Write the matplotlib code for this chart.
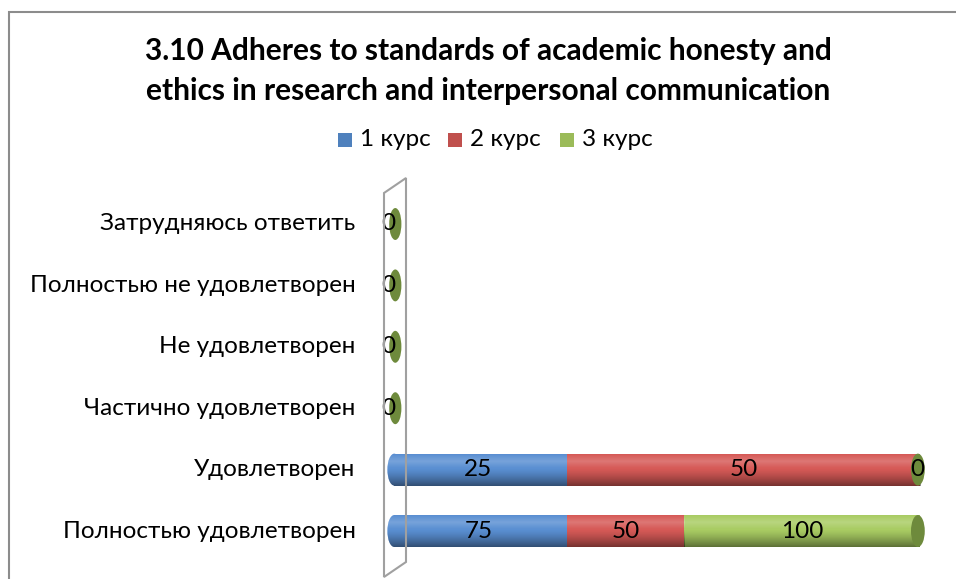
import numpy as np
import matplotlib.pyplot as plt
from matplotlib.patches import Ellipse, Polygon, Rectangle

categories = ['Полностью удовлетворен', 'Удовлетворен', 'Частично удовлетворен',
              'Не удовлетворен', 'Полностью не удовлетворен', 'Затрудняюсь ответить']
series_names = ['1 курс', '2 курс', '3 курс']
kurs1 = [75, 25, 0, 0, 0, 0]
kurs2 = [50, 50, 0, 0, 0, 0]
kurs3 = [100, 0, 0, 0, 0, 0]
title = '3.10 Adheres to standards of academic honesty and\nethics in research and interpersonal communication'

colors = ['#4F81BD', '#C0504D', '#9BBB59']
face = ['#5A8FD2', '#D65A57', '#A9CC63']
caps = ['#3D6A9E', '#9A3E3B', '#6E8A3C']

plt.rcParams['font.family'] = ['Lato', 'DejaVu Sans']

W, H = 956, 579
fig = plt.figure(figsize=(W / 100, H / 100), dpi=100)

def px(x0, y0, x1, y1):
    return [x0 / W, 1 - y1 / H, (x1 - x0) / W, (y1 - y0) / H]

# 0..100 % maps to 390..920 px; a little room on both sides for the end caps
ppu = 5.3
ax = fig.add_axes(px(390 - 3 * ppu, 193.3, 920 + 3 * ppu, 561.7))
ax.set_xlim(-3, 103)
ax.set_ylim(-0.5, 5.5)
ax.axis('off')

# outer frame and the 3D wall
fig.patches.append(Rectangle((9 / W, -0.1), 2, 1 - 12 / H + 0.1, transform=fig.transFigure,
                             fill=False, edgecolor='#8c8c8c', linewidth=1.5))
wall = [(384, 193), (406, 178), (406, 562), (384, 577)]
fig.patches.append(Polygon([(x / W, 1 - y / H) for x, y in wall], closed=True, transform=fig.transFigure,
                           fill=False, edgecolor='#a0a0a0', linewidth=1.5))

data = np.array([kurs1, kurs2, kurs3], dtype=float)
totals = data.sum(axis=0)
bh = 0.52
capw = 2.6
fs = 17.5

# vertical shading for the cylinder look (first row = bottom of bar, darkest)
n = 64
t = np.linspace(0, 1, n)
dark = np.clip((t - 0.45) / 0.55, 0, 1) ** 1.3 * 0.45
light = np.clip(1 - np.abs(t - 0.22) / 0.22, 0, 1) * 0.18
shade = np.zeros((n, 1, 4))
shade[:, 0, :3] = (light / np.maximum(light + dark, 1e-6))[:, None]
shade[:, 0, 3] = light + dark
shade = shade[::-1]


def shaded(patch, x0, x1, y, z):
    im = ax.imshow(shade, extent=(x0, x1, y - bh / 2, y + bh / 2), aspect='auto',
                   zorder=z, interpolation='bilinear', origin='lower')
    im.set_clip_path(patch)


for i, cat in enumerate(categories):
    ax.text(-6.5, i, cat, ha='right', va='center', fontsize=fs)
    if totals[i] == 0:
        ax.add_patch(Ellipse((1.0, i), 2.3, bh, facecolor=caps[2], edgecolor='none', zorder=3))
        ax.text(-0.4, i, '0', ha='center', va='center', fontsize=fs, zorder=5)
        continue
    left = 0
    pct = data[:, i] / totals[i] * 100
    for s in range(3):
        w = pct[s]
        if w > 0:
            if s == 0:
                e = Ellipse((0.8, i), capw, bh, facecolor=face[s], edgecolor='none', zorder=1.5)
                ax.add_patch(e)
                shaded(e, -capw, capw, i, 1.6)
            bar = ax.barh(i, w, left=left + (0.8 if s == 0 else 0), height=bh, color=face[s],
                          edgecolor='none', zorder=2)[0]
            if s == 0:
                bar.set_width(w - 0.8)
            shaded(bar, left, left + w, i, 3)
        ax.text(left + w / 2 if w > 0 else left - 0.6, i, f'{data[s, i]:g}', ha='center', va='center',
                fontsize=fs, zorder=6)
        left += w
    # end cap at the right takes colour of last series
    ax.add_patch(Ellipse((99.6, i), capw, bh, facecolor=caps[2], edgecolor='none', zorder=4))

fig.text(488 / W, 1 - 71 / H, title, ha='center', va='center', fontsize=21.5, fontweight='bold',
         linespacing=1.5)

# legend
leg_y = 1 - 140 / H
for k, (name, c) in enumerate(zip(series_names, colors)):
    x0 = [338, 448, 560][k]
    fig.patches.append(Rectangle((x0 / W, leg_y - 7 / H), 14 / W, 14 / H, transform=fig.transFigure,
                                 facecolor=c, edgecolor='none'))
    fig.text((x0 + 22) / W, leg_y, name, ha='left', va='center', fontsize=fs)

fig.savefig('out.png', dpi=100)
